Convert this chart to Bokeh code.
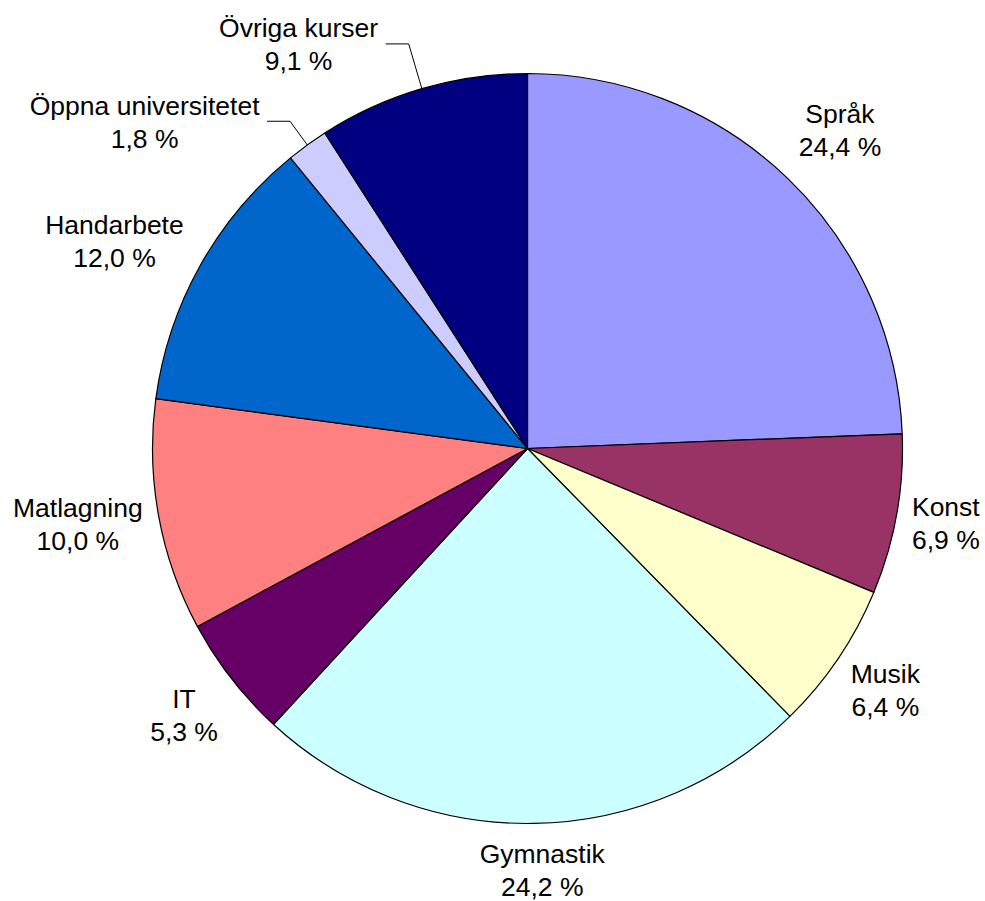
import numpy as np
from bokeh.plotting import figure
from bokeh.models import ColumnDataSource, Range1d
from bokeh.core.properties import value
from bokeh.embed import file_html
from bokeh.resources import INLINE

# ---- data ----
categories = ["Språk", "Konst", "Musik", "Gymnastik", "IT", "Matlagning",
              "Handarbete", "Öppna universitetet", "Övriga kurser"]
shares = [24.4, 6.9, 6.4, 24.2, 5.3, 10.0, 12.0, 1.8, 9.1]
share_labels = ["24,4 %", "6,9 %", "6,4 %", "24,2 %", "5,3 %", "10,0 %",
                "12,0 %", "1,8 %", "9,1 %"]
colors = ["#9999FF", "#993366", "#FFFFCC", "#CCFFFF", "#660066", "#FF8080",
          "#0066CC", "#CCCCFF", "#000080"]

# ---- layout ----
W, H = 985, 901
CX, CY, R = 527, 453, 375
label_dist = [446, 425, 432, 422, 435, 456, 462, 503, 464]
label_shift_deg = [0.6, 0, 0, -1.1, 0, 0.8, -2.6, -13.6, -13.2]
leader = [False] * 7 + [True, True]
leader_tail = 23

vals = np.array(shares, dtype=float)
frac = vals / vals.sum()
cum = np.concatenate([[0.0], np.cumsum(frac)])
start = np.pi / 2 - 2 * np.pi * cum[:-1]
end = np.pi / 2 - 2 * np.pi * cum[1:]
mid_clock = 2 * np.pi * (cum[:-1] + cum[1:]) / 2   # clockwise from top

p = figure(width=W, height=H, output_backend="svg", toolbar_location=None,
           x_range=Range1d(0, W), y_range=Range1d(0, H),
           min_border=0, match_aspect=False)
p.axis.visible = False
p.grid.visible = False
p.outline_line_color = None
p.background_fill_color = "white"
p.border_fill_color = "white"

src = ColumnDataSource(dict(x=[CX] * len(vals), y=[CY] * len(vals),
                            start=start, end=end, color=colors))
p.wedge(x="x", y="y", radius=R, start_angle="start", end_angle="end",
        direction="clock", fill_color="color", line_color="black",
        line_width=1.2, source=src)

# labels
lx, ly, ltxt = [], [], []
for i, cat in enumerate(categories):
    th = mid_clock[i] + np.deg2rad(label_shift_deg[i])
    lx.append(CX + label_dist[i] * np.sin(th))
    ly.append(CY + label_dist[i] * np.cos(th))
    ltxt.append(cat + "\n" + share_labels[i])

p.text(x=lx, y=ly, text=ltxt, text_align="center", text_baseline="middle",
       text_font=value("Liberation Sans"), text_font_size="26.5px",
       text_line_height=1.10, text_color="black")

# leader lines
for i in range(len(vals)):
    if not leader[i]:
        continue
    th = mid_clock[i]
    x0 = CX + R * np.sin(th)
    y0 = CY + R * np.cos(th)
    ye = ly[i] + 1
    t = (ye - CY) / np.cos(th)
    xe = CX + t * np.sin(th)
    p.line(x=[x0, xe, xe - leader_tail], y=[y0, ye, ye], line_color="black",
           line_width=1)

open("out.html", "w").write(file_html(p, INLINE))
